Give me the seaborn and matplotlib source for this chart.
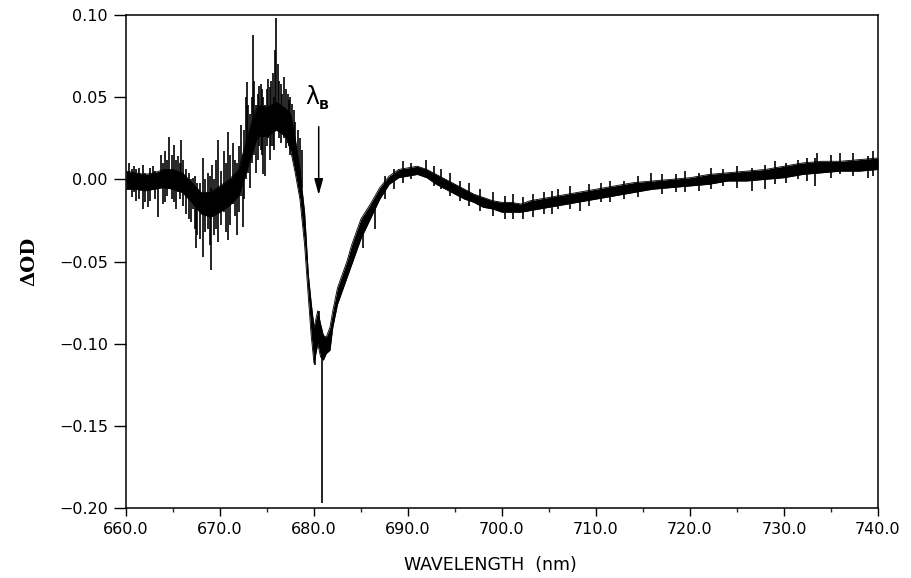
import numpy as np
import pandas as pd
import matplotlib
matplotlib.use("Agg")
import matplotlib.pyplot as plt
from matplotlib.ticker import MultipleLocator
import seaborn as sns

# core band of the trace (upper / lower edge)
band_wl = [660, 661, 662, 663, 664, 665, 666, 667, 668, 669, 670, 671, 672, 673,
           674, 675, 676, 677, 677.5, 678, 678.5, 679, 679.4, 679.7, 680.0, 680.4,
           680.7, 681.0, 681.3, 681.7, 682.0, 682.5, 683.0, 683.5, 684, 684.5, 685,
           686, 687, 688, 689, 690, 691, 692, 693, 694, 695, 696, 697, 698, 699,
           700, 701, 702, 703, 704, 705, 706, 708, 710, 712, 714, 716, 718, 720,
           722, 724, 726, 728, 730, 732, 734, 736, 738, 740]
band_hi = [0.005, 0.004, 0.003, 0.004, 0.006, 0.006, 0.004, -0.002, -0.008, -0.008,
           -0.004, 0.000, 0.006, 0.028, 0.045, 0.044, 0.047, 0.043, 0.040, 0.025,
           0.006, -0.020, -0.058, -0.075, -0.090, -0.080, -0.088, -0.095, -0.096,
           -0.090, -0.080, -0.066, -0.058, -0.050, -0.040, -0.032, -0.024, -0.015,
           -0.005, 0.002, 0.006, 0.007, 0.008, 0.006, 0.003, 0.000, -0.003, -0.006,
           -0.009, -0.011, -0.013, -0.014, -0.014, -0.015, -0.013, -0.012, -0.011,
           -0.010, -0.008, -0.006, -0.004, -0.002, -0.001, 0.000, 0.001, 0.003,
           0.004, 0.005, 0.006, 0.008, 0.010, 0.011, 0.011, 0.012, 0.013]
band_lo = [-0.006, -0.006, -0.007, -0.006, -0.005, -0.006, -0.008, -0.014, -0.021,
           -0.023, -0.020, -0.016, -0.010, 0.008, 0.026, 0.026, 0.030, 0.026, 0.018,
           0.004, -0.012, -0.040, -0.072, -0.095, -0.112, -0.100, -0.108, -0.110,
           -0.106, -0.104, -0.090, -0.076, -0.068, -0.060, -0.052, -0.044, -0.036,
           -0.024, -0.012, -0.003, 0.001, 0.002, 0.003, 0.001, -0.003, -0.006,
           -0.009, -0.012, -0.014, -0.017, -0.018, -0.020, -0.020, -0.020, -0.019,
           -0.018, -0.017, -0.016, -0.014, -0.012, -0.010, -0.008, -0.006, -0.005,
           -0.004, -0.003, -0.001, -0.001, 0.000, 0.001, 0.003, 0.004, 0.005,
           0.005, 0.006]

# noise spikes (wavelength, top, bottom)
spike_wl = [660.3, 660.6, 660.9, 661.1, 661.4, 661.8, 662.0, 662.3, 662.6, 662.9,
            663.1, 663.4, 663.7, 663.9, 664.2, 664.4, 664.6, 664.9, 665.1, 665.3,
            665.5, 665.7, 665.9, 666.1, 666.4, 666.7, 666.9, 667.1, 667.3, 667.4,
            667.6, 667.9, 668.2, 668.4, 668.7, 668.9, 669.0, 669.2, 669.4, 669.6,
            669.8, 670.1, 670.4, 670.6, 670.9, 671.1, 671.4, 671.6, 671.8, 672.0,
            672.2, 672.4, 672.6, 672.8, 672.9, 673.0, 673.2, 673.4, 673.5, 673.6,
            673.8, 674.0, 674.2, 674.4, 674.5, 674.6, 674.8, 675.0, 675.1, 675.3,
            675.4, 675.6, 675.7, 675.9, 676.0, 676.2, 676.3, 676.5, 676.6, 676.8,
            677.0, 677.2, 677.3, 677.5, 677.7, 677.9, 678.0, 678.3, 678.5, 678.7,
            680.1, 680.5, 680.9,
            685.2, 686.5, 687.5, 688.5, 689.5, 690.3, 691.9, 692.8, 693.5, 694.5,
            695.5, 696.5, 697.7, 699.0, 700.3, 701.2, 702.2, 703.3, 704.5, 705.3,
            706.0, 707.2, 708.3, 709.3, 710.5, 711.5, 713.0, 714.5, 715.8, 717.0,
            718.5, 719.5, 721.0, 722.2, 723.5, 725.0, 726.6, 728.0, 729.0, 730.2,
            731.5, 732.4, 733.3, 733.5, 735.0, 736.0, 737.3, 738.9, 739.5]
spike_top = [0.010, 0.006, 0.008, 0.006, 0.007, 0.009, 0.004, 0.002, 0.007, 0.008,
             0.005, 0.002, 0.015, 0.010, 0.017, 0.012, 0.026, 0.015, 0.021, 0.012,
             0.014, 0.010, 0.024, 0.012, 0.006, 0.004, 0.000, 0.001, 0.002, -0.005,
             -0.002, -0.002, 0.013, 0.000, 0.004, 0.002, -0.005, 0.009, 0.000, 0.012,
             0.024, 0.005, 0.017, 0.010, 0.029, 0.015, 0.022, 0.012, 0.010, 0.020,
             0.033, 0.015, 0.030, 0.050, 0.059, 0.045, 0.040, 0.050, 0.088, 0.060,
             0.045, 0.052, 0.057, 0.058, 0.055, 0.050, 0.045, 0.055, 0.061, 0.056,
             0.060, 0.065, 0.050, 0.079, 0.098, 0.070, 0.060, 0.058, 0.052, 0.062,
             0.055, 0.052, 0.048, 0.050, 0.046, 0.042, 0.035, 0.030, 0.025, 0.018,
             -0.090, -0.080, -0.095,
             -0.030, -0.018, 0.002, 0.006, 0.011, 0.010, 0.012, 0.008, 0.006, 0.004,
             -0.001, -0.002, -0.006, -0.008, -0.010, -0.009, -0.011, -0.009, -0.008,
             -0.007, -0.006, -0.004, -0.009, -0.003, -0.002, -0.001, -0.001, 0.002,
             0.004, 0.003, 0.003, 0.005, 0.004, 0.007, 0.006, 0.008, 0.007, 0.009,
             0.011, 0.010, 0.012, 0.013, 0.013, 0.016, 0.015, 0.016, 0.016, 0.014,
             0.017]
spike_bot = [-0.005, -0.011, -0.008, -0.013, -0.012, -0.018, -0.014, -0.017, -0.013,
             -0.006, -0.012, -0.023, -0.005, -0.015, -0.014, -0.010, -0.004, -0.012,
             -0.014, -0.018, -0.008, -0.012, -0.006, -0.016, -0.021, -0.024, -0.026,
             -0.018, -0.030, -0.042, -0.034, -0.036, -0.047, -0.032, -0.030, -0.040,
             -0.055, -0.020, -0.034, -0.030, -0.038, -0.028, -0.020, -0.032, -0.037,
             -0.028, -0.015, -0.022, -0.034, -0.020, -0.010, -0.029, -0.012, 0.000,
             0.010, 0.004, -0.005, 0.010, 0.020, 0.015, 0.004, 0.012, 0.020, 0.018,
             0.015, 0.003, 0.002, 0.020, 0.025, 0.012, 0.020, 0.020, 0.018, 0.030,
             0.035, 0.030, 0.025, 0.022, 0.029, 0.025, 0.019, 0.022, 0.020, 0.015,
             0.018, 0.012, 0.010, 0.005, 0.000, -0.005,
             -0.113, -0.100, -0.197,
             -0.042, -0.030, -0.012, -0.006, -0.002, 0.000, 0.002, -0.004, -0.006,
             -0.010, -0.013, -0.016, -0.019, -0.022, -0.024, -0.024, -0.024, -0.023,
             -0.021, -0.021, -0.018, -0.018, -0.019, -0.016, -0.014, -0.014, -0.012,
             -0.011, -0.006, -0.009, -0.008, -0.008, -0.007, -0.006, -0.004, -0.005,
             -0.007, -0.006, -0.003, -0.002, 0.000, -0.001, -0.004, 0.004, 0.001,
             0.003, 0.002, 0.001, 0.002]

x_ticks = [660, 670, 680, 690, 700, 710, 720, 730, 740]
y_ticks = [-0.20, -0.15, -0.10, -0.05, 0.00, 0.05, 0.10]

sns.set_theme(style="ticks")
plt.rcParams['font.family'] = ['DejaVu Sans']
plt.rcParams['text.color'] = 'black'
plt.rcParams['axes.labelcolor'] = 'black'

band = pd.DataFrame({'wl': band_wl, 'hi': band_hi, 'lo': band_lo})

fig = plt.figure(figsize=(9.11, 5.78), dpi=100)
ax = fig.add_axes([0.1383, 0.1211, 0.8255, 0.8529])

ax.fill_between(band['wl'], band['lo'], band['hi'], color='black', lw=0)
sns.lineplot(data=band, x='wl', y='hi', color='black', lw=0.6, ax=ax)
sns.lineplot(data=band, x='wl', y='lo', color='black', lw=0.6, ax=ax)
ax.vlines(spike_wl, spike_bot, spike_top, color='black', lw=1.2)

# lambda_B marker
ax.annotate('', xy=(680.5, -0.0095), xytext=(680.5, 0.032),
            arrowprops=dict(arrowstyle='-|>,head_length=0.8,head_width=0.22',
                            color='black', lw=1.1, shrinkA=0, shrinkB=0))
ax.text(679.8, 0.050, '\u03bb', fontsize=17, ha='center', va='center')
ax.text(681.05, 0.045, 'B', fontsize=9.5, fontweight='bold',
        ha='center', va='center')

ax.set_xlim(660, 740)
ax.set_ylim(-0.20, 0.10)
ax.set_xticks(x_ticks)
ax.set_xticklabels(['%.1f' % v for v in x_ticks])
ax.xaxis.set_minor_locator(MultipleLocator(5))
ax.set_yticks(y_ticks)
ax.set_yticklabels([('%.2f' % v).replace('-', '\u2212') for v in y_ticks])

ax.tick_params(axis='x', which='major', direction='out', length=6, width=1,
               pad=4, labelsize=11.5, colors='black')
ax.tick_params(axis='x', which='minor', direction='out', length=3, width=1)
ax.tick_params(axis='y', which='major', direction='out', length=9, width=1,
               pad=4, labelsize=11.5, colors='black')
ax.tick_params(top=False, right=False)
for s in ax.spines.values():
    s.set_linewidth(1.1)
    s.set_color('black')
    s.set_visible(True)

ax.set_xlabel('WAVELENGTH  (nm)', fontsize=12.5, color='black')
ax.set_ylabel('\u0394OD', fontsize=14, fontweight='bold', color='black',
              family=['DejaVu Serif'])
ax.xaxis.set_label_coords(0.484, -0.098)
ax.yaxis.set_label_coords(-0.117, 0.5)
ax.grid(False)

fig.savefig('out.png', dpi=100)
